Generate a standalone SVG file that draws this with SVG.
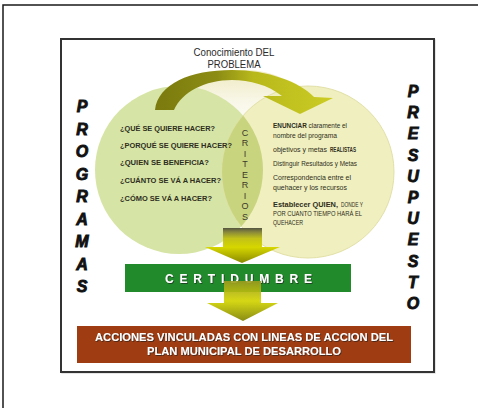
<svg xmlns="http://www.w3.org/2000/svg" width="478" height="408" viewBox="0 0 478 408">
<style>
.q{font-family:"Liberation Sans",Arial,sans-serif;font-weight:bold;font-size:6.8px;fill:#2e2e1e}
.r{font-family:"Liberation Sans",Arial,sans-serif;font-size:6.6px;fill:#2e2e1a}
.b{font-weight:bold}
.vert{font-family:"Liberation Sans",Arial,sans-serif;font-weight:bold;font-style:italic;font-size:16px;fill:#111;stroke:#111;stroke-width:0.9;text-anchor:middle}
.crit{font-family:"Liberation Sans",Arial,sans-serif;font-size:9px;fill:#3a3a2a;text-anchor:middle}
.title{font-family:"Liberation Sans",Arial,sans-serif;font-size:10px;fill:#2a2a2a;text-anchor:middle}
.box{font-family:"Liberation Sans",Arial,sans-serif;font-weight:bold;fill:#fff}
</style>
<defs>
<linearGradient id="gCurve" gradientUnits="userSpaceOnUse" x1="155" y1="0" x2="333" y2="0">
<stop offset="0" stop-color="#7a7a0e"/>
<stop offset="0.35" stop-color="#8c8c14"/>
<stop offset="0.55" stop-color="#b8b81c"/>
<stop offset="1" stop-color="#cccc24"/>
</linearGradient>
<linearGradient id="gDown1" gradientUnits="userSpaceOnUse" x1="0" y1="228" x2="0" y2="263">
<stop offset="0" stop-color="#555540"/>
<stop offset="0.12" stop-color="#8a8a3a"/>
<stop offset="0.3" stop-color="#c2c218"/>
<stop offset="0.55" stop-color="#d6d600"/>
<stop offset="1" stop-color="#8a8a00"/>
</linearGradient>
<linearGradient id="gDown2" gradientUnits="userSpaceOnUse" x1="0" y1="281" x2="0" y2="321">
<stop offset="0" stop-color="#9a9a20"/>
<stop offset="0.5" stop-color="#d2d400"/>
<stop offset="1" stop-color="#7f8200"/>
</linearGradient>
<linearGradient id="gFaint" x1="0" y1="0" x2="0" y2="1">
<stop offset="0" stop-color="#efeac2"/>
<stop offset="0.5" stop-color="#f8f6e6"/>
<stop offset="1" stop-color="#ffffff"/>
</linearGradient>
<filter id="sh" x="-5%" y="-20%" width="110%" height="140%">
<feDropShadow dx="0.8" dy="0.8" stdDeviation="0.4" flood-color="#222" flood-opacity="0.8"/>
</filter>
<clipPath id="clipL"><circle cx="179" cy="170" r="84"/></clipPath>
</defs>

<g id="outer-frame">
<rect x="3" y="5" width="480" height="410" fill="#fff" stroke="#1a1a1a" stroke-width="1.5"/>
</g>
<g id="inner-frame">
<rect x="62" y="40" width="373" height="333" fill="none" stroke="#ddd" stroke-width="1.5"/>
<rect x="61" y="39" width="373" height="333" fill="#fff" stroke="#333" stroke-width="2"/>
</g>

<g id="faint-circle">
<ellipse cx="244" cy="100" rx="56" ry="30" fill="url(#gFaint)"/>
</g>

<g id="circle-programas">
<circle cx="179" cy="170" r="84" fill="#d6e4a5"/>
</g>
<g id="circle-presupuesto">
<circle cx="308" cy="172" r="86" fill="#f0efbf" stroke="#e2e0a6" stroke-width="1"/>
</g>
<g id="lens-criterios">
<circle cx="308" cy="172" r="86" fill="#c9d47e" clip-path="url(#clipL)"/>
<text class="crit" x="245" y="135.5">C</text>
<text class="crit" x="245" y="146">R</text>
<text class="crit" x="245" y="156.5">I</text>
<text class="crit" x="245" y="167">T</text>
<text class="crit" x="245" y="177.5">E</text>
<text class="crit" x="245" y="188">R</text>
<text class="crit" x="245" y="198.5">I</text>
<text class="crit" x="245" y="209">O</text>
<text class="crit" x="245" y="219.5">S</text>
</g>

<g id="preguntas">
<text class="q" x="120" y="131" textLength="95" lengthAdjust="spacingAndGlyphs">¿QUÉ SE QUIERE HACER?</text>
<text class="q" x="120" y="148" textLength="112" lengthAdjust="spacingAndGlyphs">¿PORQUÉ SE QUIERE HACER?</text>
<text class="q" x="120" y="165" textLength="89" lengthAdjust="spacingAndGlyphs">¿QUIEN SE BENEFICIA?</text>
<text class="q" x="120" y="183" textLength="101" lengthAdjust="spacingAndGlyphs">¿CUÁNTO SE VÁ A HACER?</text>
<text class="q" x="120" y="201" textLength="92" lengthAdjust="spacingAndGlyphs">¿CÓMO SE VÁ A HACER?</text>
</g>

<g id="presupuesto-texto">
<text class="r" x="273" y="128" textLength="74" lengthAdjust="spacingAndGlyphs"><tspan class="b">ENUNCIAR</tspan> claramente el</text>
<text class="r" x="273" y="138" textLength="64" lengthAdjust="spacingAndGlyphs">nombre del programa</text>
<text class="r" x="273" y="152" textLength="54" lengthAdjust="spacingAndGlyphs">objetivos y metas</text>
<text class="r b" x="330" y="152" textLength="26" lengthAdjust="spacingAndGlyphs">REALISTAS</text>
<text class="r" x="273" y="166" textLength="84" lengthAdjust="spacingAndGlyphs">Distinguir Resultados y Metas</text>
<text class="r" x="273" y="180" textLength="78" lengthAdjust="spacingAndGlyphs">Correspondencia entre el</text>
<text class="r" x="273" y="190" textLength="74" lengthAdjust="spacingAndGlyphs">quehacer y los recursos</text>
<text class="r b" x="273" y="207" font-size="8" textLength="65" lengthAdjust="spacingAndGlyphs">Establecer QUIEN,</text>
<text class="r" x="341" y="207" textLength="22" lengthAdjust="spacingAndGlyphs">DONDE Y</text>
<text class="r" x="273" y="216" textLength="89" lengthAdjust="spacingAndGlyphs">POR CUANTO TIEMPO HARÁ EL</text>
<text class="r" x="273" y="225" textLength="30" lengthAdjust="spacingAndGlyphs">QUEHACER</text>
</g>

<g id="titulo">
<text class="title" x="234" y="56" textLength="81" lengthAdjust="spacingAndGlyphs">Conocimiento DEL</text>
<text class="title" x="234" y="68" textLength="53" lengthAdjust="spacingAndGlyphs">PROBLEMA</text>
</g>

<g id="connectors">
<path id="arrow-curved" d="M155,110 C158,84 190,70 232,70 C268,70 300,82 314,97 L333,98 L300,114 L263,96 L282,96 C268,85 250,80 232,80 C205,80 182,92 174,110 Z" fill="url(#gCurve)"/>
<path id="arrow-down-1" d="M223,228 L262,228 L262,247 L280,247 L242,263 L205,247 L223,247 Z" fill="url(#gDown1)"/>
</g>

<g id="certidumbre">
<rect x="125" y="264" width="226" height="28" fill="#218b2c"/>
<text class="box" x="165" y="283" font-size="12" textLength="147" lengthAdjust="spacing" filter="url(#sh)">CERTIDUMBRE</text>
</g>

<g id="connectors-2">
<path id="arrow-down-2" d="M224,281 L261,281 L261,303 L278,303 L243,321 L207,303 L224,303 Z" fill="url(#gDown2)" opacity="0.92"/>
</g>

<g id="acciones">
<rect x="77" y="326" width="334" height="37" fill="#9f3c12"/>
<text class="box" x="244" y="341" font-size="11" text-anchor="middle" textLength="298" lengthAdjust="spacingAndGlyphs" filter="url(#sh)">ACCIONES VINCULADAS CON LINEAS DE ACCION DEL</text>
<text class="box" x="244" y="355" font-size="11" text-anchor="middle" textLength="194" lengthAdjust="spacingAndGlyphs" filter="url(#sh)">PLAN MUNICIPAL DE DESARROLLO</text>
</g>

<g id="programas">
<text class="vert" x="82" y="112">P</text>
<text class="vert" x="82" y="134.5">R</text>
<text class="vert" x="82" y="157">O</text>
<text class="vert" x="82" y="179.5">G</text>
<text class="vert" x="82" y="202">R</text>
<text class="vert" x="82" y="224.5">A</text>
<text class="vert" x="82" y="247">M</text>
<text class="vert" x="82" y="269.5">A</text>
<text class="vert" x="82" y="292">S</text>
</g>

<g id="presupuesto">
<text class="vert" x="413" y="97">P</text>
<text class="vert" x="413" y="118.2">R</text>
<text class="vert" x="413" y="139.4">E</text>
<text class="vert" x="413" y="160.6">S</text>
<text class="vert" x="413" y="181.8">U</text>
<text class="vert" x="413" y="203">P</text>
<text class="vert" x="413" y="224.2">U</text>
<text class="vert" x="413" y="245.4">E</text>
<text class="vert" x="413" y="266.6">S</text>
<text class="vert" x="413" y="287.8">T</text>
<text class="vert" x="413" y="309">O</text>
</g>
</svg>
